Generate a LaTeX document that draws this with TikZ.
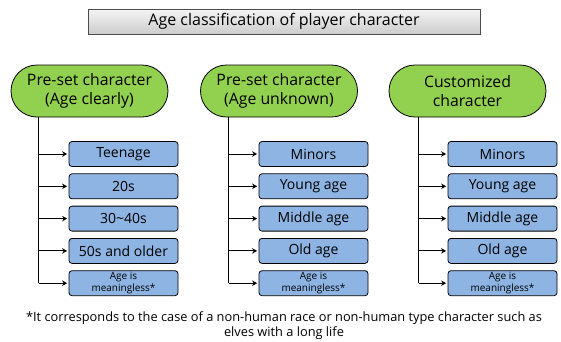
\documentclass[tikz,border=0pt]{standalone}
\usepackage{fontspec}
\setmainfont{Open Sans}
\usetikzlibrary{arrows.meta,positioning}
\definecolor{headgreen}{RGB}{146,208,80}
\definecolor{itemblue}{RGB}{141,180,227}

\begin{document}
\begin{tikzpicture}[x=1pt,y=-1pt,
		title/.style={draw=gray!60!black,thick,top color=gray!8,bottom color=gray!40,
			minimum width=392pt,minimum height=25pt,inner sep=0pt,font=\fontsize{16}{18}\selectfont},
		head/.style={draw=black,thick,fill=headgreen,rounded corners=26pt,minimum width=157pt,
			minimum height=52pt,align=center,inner sep=0pt,font=\fontsize{15.8}{19}\selectfont},
		item/.style={draw=black,thick,fill=itemblue,rounded corners=3pt,minimum width=109pt,
			minimum height=25pt,inner sep=0pt,font=\fontsize{14}{16}\selectfont},
		small/.style={item,align=center,font=\fontsize{10}{11.5}\selectfont},
		link/.style={-{Stealth[length=5pt,width=5.5pt]},line width=1pt,shorten >=1.5pt}]
		\useasboundingbox (0,0) rectangle (561,341);
		\node[title] (t) at (284,21.5) {Age classification of player character};
		% three headings
		\node[head] (g1) at (89.5,91) {Pre-set character\\(Age clearly)};
		\node[head] (g2) at (279,91) {Pre-set character\\(Age unknown)};
		\node[head] (g3) at (467.5,91) {Customized\\character};
		% first column
		\node[item] (a1) at (123.5,154) {Teenage};
		\node[item,below=6.5pt of a1] (a2) {20s};
		\node[item,below=6.5pt of a2] (a3) {30\textasciitilde40s};
		\node[item,below=6.5pt of a3] (a4) {50s and older};
		\node[small,below=6.5pt of a4] (a5) {Age is\\meaningless*};
		% second column
		\node[item] (b1) at (313.5,154) {Minors};
		\node[item,below=6.5pt of b1] (b2) {Young age};
		\node[item,below=6.5pt of b2] (b3) {Middle age};
		\node[item,below=6.5pt of b3] (b4) {Old age};
		\node[small,below=6.5pt of b4] (b5) {Age is\\meaningless*};
		% third column
		\node[item] (c1) at (502.5,154) {Minors};
		\node[item,below=6.5pt of c1] (c2) {Young age};
		\node[item,below=6.5pt of c2] (c3) {Middle age};
		\node[item,below=6.5pt of c3] (c4) {Old age};
		\node[small,below=6.5pt of c4] (c5) {Age is\\meaningless*};
		% trunks
		\coordinate (v1) at ([xshift=-30pt]a1.west |- g1.south);
		\coordinate (v2) at ([xshift=-30pt]b1.west |- g2.south);
		\coordinate (v3) at ([xshift=-29pt]c1.west |- g3.south);
		\draw[line width=1pt] (v1) -- (v1 |- a5.west);
		\draw[line width=1pt] (v2) -- (v2 |- b5.west);
		\draw[line width=1pt] (v3) -- (v3 |- c5.west);
		\draw[link] (v1 |- a1.west) -- (a1.west);
		\draw[link] (v1 |- a2.west) -- (a2.west);
		\draw[link] (v1 |- a3.west) -- (a3.west);
		\draw[link] (v1 |- a4.west) -- (a4.west);
		\draw[link] (v1 |- a5.west) -- (a5.west);
		\draw[link] (v2 |- b1.west) -- (b1.west);
		\draw[link] (v2 |- b2.west) -- (b2.west);
		\draw[link] (v2 |- b3.west) -- (b3.west);
		\draw[link] (v2 |- b4.west) -- (b4.west);
		\draw[link] (v2 |- b5.west) -- (b5.west);
		\draw[link] (v3 |- c1.west) -- (c1.west);
		\draw[link] (v3 |- c2.west) -- (c2.west);
		\draw[link] (v3 |- c3.west) -- (c3.west);
		\draw[link] (v3 |- c4.west) -- (c4.west);
		\draw[link] (v3 |- c5.west) -- (c5.west);
		\node[align=center,font=\fontsize{12.8}{15}\selectfont] (note) at (284,325.5)
			{*It corresponds to the case of a non-human race or non-human type character such as\\elves with a long life};
	\end{tikzpicture}
\end{document}
